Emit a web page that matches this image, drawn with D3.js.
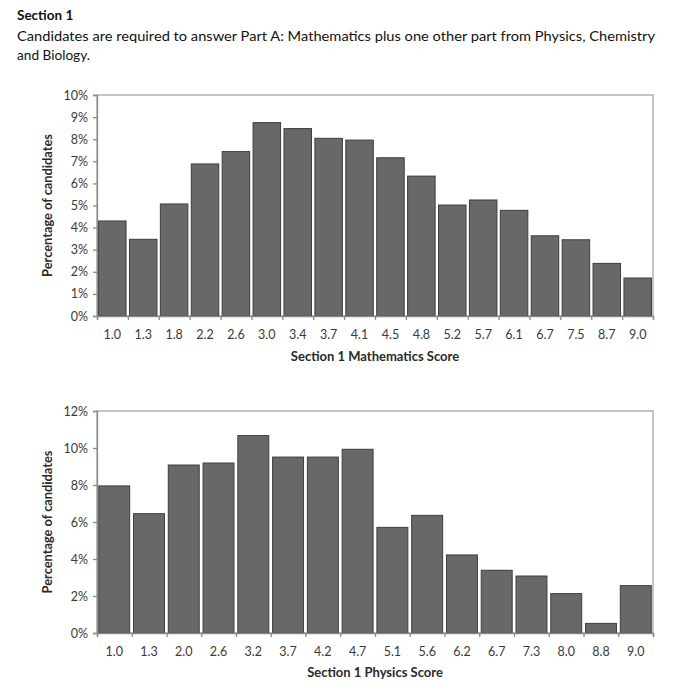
<!DOCTYPE html>
<html><head><meta charset="utf-8">
<script src="https://cdn.jsdelivr.net/npm/d3@7/dist/d3.min.js"></script>
<style>body{margin:0;background:#fff;}svg{display:block;}</style>
</head><body>
<svg id="c" width="693" height="692"></svg>
<script>
// ---- data ----
const mathCategories = ["1.0","1.3","1.8","2.2","2.6","3.0","3.4","3.7","4.1","4.5","4.8","5.2","5.7","6.1","6.7","7.5","8.7","9.0"];
const mathValues = [4.30,3.47,5.07,6.88,7.44,8.75,8.48,8.04,7.96,7.16,6.33,5.02,5.25,4.78,3.63,3.45,2.38,1.72];
const mathTicks = [0,1,2,3,4,5,6,7,8,9,10];
const physCategories = ["1.0","1.3","2.0","2.6","3.2","3.7","4.2","4.7","5.1","5.6","6.2","6.7","7.3","8.0","8.8","9.0"];
const physValues = [7.95,6.45,9.08,9.19,10.67,9.51,9.51,9.93,5.71,6.36,4.22,3.39,3.08,2.13,0.52,2.56];
const physTicks = [0,2,4,6,8,10,12];

const FONT = "Lato, 'Open Sans', sans-serif";
const svg = d3.select("#c");

// header
const hdr = svg.append("g").attr("font-family", FONT).attr("fill", "#111");
hdr.append("text").attr("x", 17).attr("y", 20).attr("font-size", 13.5).attr("font-weight", "bold").text("Section 1");
hdr.append("text").attr("x", 17).attr("y", 41).attr("font-size", 13)
  .attr("textLength", 638).attr("lengthAdjust", "spacingAndGlyphs")
  .text("Candidates are required to answer Part A: Mathematics plus one other part from Physics, Chemistry");
hdr.append("text").attr("x", 17).attr("y", 60).attr("font-size", 13)
  .attr("textLength", 73).attr("lengthAdjust", "spacingAndGlyphs").text("and Biology.");

function chart(cfg) {
  const {cats, vals, ticks, top, bottom, xTitle, titleY} = cfg;
  const left = 97, right = 653;
  const g = svg.append("g");
  const x = d3.scaleBand().domain(cats).range([left, right]).paddingInner(0.11).paddingOuter(0.05);
  const xb = d3.scaleLinear().domain([0, cats.length]).range([left, right]);
  const y = d3.scaleLinear().domain([0, d3.max(ticks)]).range([bottom, top]);

  // frame
  g.append("rect").attr("x", left).attr("y", top).attr("width", right - left).attr("height", bottom - top)
    .attr("fill", "none").attr("stroke", "#a6a6a6").attr("stroke-width", 1.3);

  // bars
  g.selectAll("rect.bar").data(vals).join("rect").attr("class", "bar")
    .attr("x", (d, i) => x(cats[i])).attr("width", x.bandwidth())
    .attr("y", d => y(d)).attr("height", d => bottom - y(d))
    .attr("fill", "#686868").attr("stroke", "#3e3e3e").attr("stroke-width", 1);

  // y axis
  const ya = g.append("g").attr("transform", `translate(${left},0)`)
    .call(d3.axisLeft(y).tickValues(ticks).tickFormat(d => d + "%").tickSize(4).tickPadding(5));
  ya.select(".domain").attr("stroke", "#8a8a8a").attr("stroke-width", 1.3);
  ya.selectAll(".tick line").attr("stroke", "#8a8a8a").attr("stroke-width", 1.3);
  ya.selectAll("text").attr("font-family", FONT).attr("font-size", 12.5).attr("fill", "#3a3a3a");

  // x boundary ticks
  const xt = g.append("g").attr("transform", `translate(0,${bottom})`)
    .call(d3.axisBottom(xb).tickValues(d3.range(cats.length + 1)).tickFormat("").tickSize(4));
  xt.select(".domain").attr("stroke", "#8a8a8a").attr("stroke-width", 1.3);
  xt.selectAll(".tick line").attr("stroke", "#8a8a8a").attr("stroke-width", 1.3);

  // x labels
  const xl = g.append("g").attr("transform", `translate(0,${bottom})`)
    .call(d3.axisBottom(x).tickSize(0).tickPadding(14));
  xl.select(".domain").remove();
  xl.selectAll("text").attr("font-family", FONT).attr("font-size", 12.5).attr("fill", "#3a3a3a");

  // titles
  g.append("text").attr("x", (left + right) / 2).attr("y", titleY).attr("text-anchor", "middle")
    .attr("font-family", FONT).attr("font-size", 13).attr("font-weight", "bold").attr("fill", "#2a2a2a").text(xTitle);
  g.append("text").attr("transform", `translate(52,${(top + bottom) / 2}) rotate(-90)`).attr("text-anchor", "middle")
    .attr("font-family", FONT).attr("font-size", 12.8).attr("font-weight", "bold").attr("fill", "#2a2a2a")
    .text("Percentage of candidates");
}

chart({cats: mathCategories, vals: mathValues, ticks: mathTicks, top: 95, bottom: 316,
  xTitle: "Section 1 Mathematics Score", titleY: 361});
chart({cats: physCategories, vals: physValues, ticks: physTicks, top: 411, bottom: 633,
  xTitle: "Section 1 Physics Score", titleY: 677});
</script>
</body></html>
